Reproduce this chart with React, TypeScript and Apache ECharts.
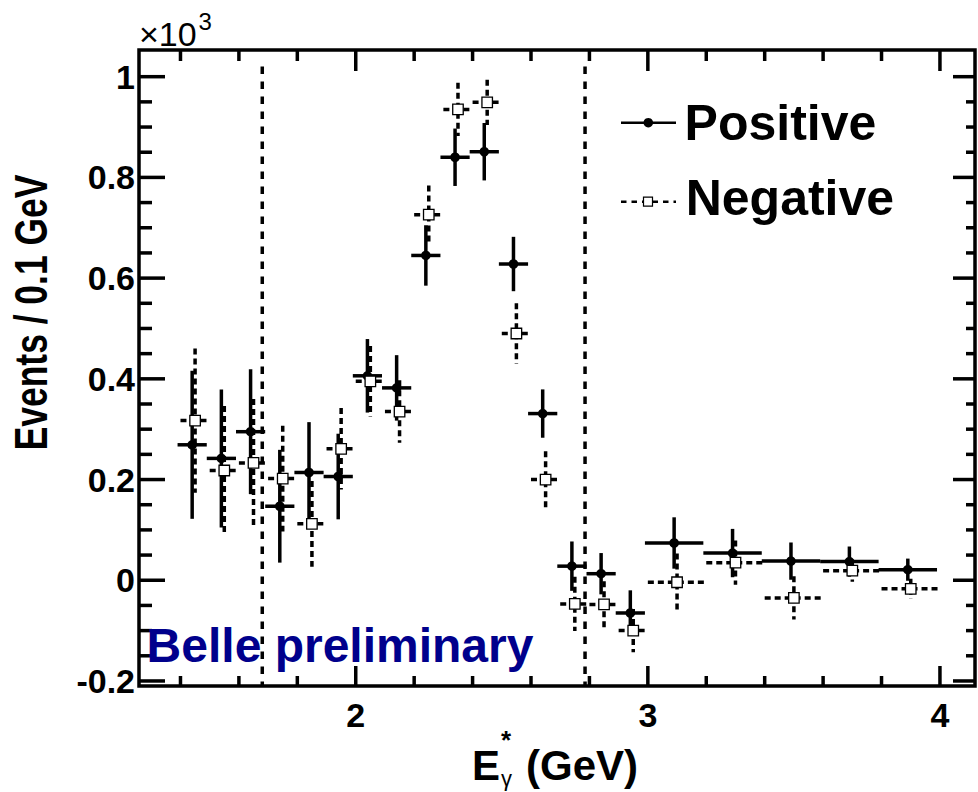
import React, { useEffect, useRef } from "react";
import * as echarts from "echarts";

// ---- data (values in units of 10^3 events / 0.1 GeV) ----
const BIN_CENTERS = [
  1.45, 1.55, 1.65, 1.75, 1.85, 1.95, 2.05, 2.15, 2.25, 2.35, 2.45, 2.55, 2.65, 2.75, 2.85, 2.95,
  3.1, 3.3, 3.5, 3.7, 3.9,
];
const BIN_HALF_WIDTHS = [
  0.05, 0.05, 0.05, 0.05, 0.05, 0.05, 0.05, 0.05, 0.05, 0.05, 0.05, 0.05, 0.05, 0.05, 0.05, 0.05,
  0.1, 0.1, 0.1, 0.1, 0.1,
];
const POSITIVE_VALUES = [
  0.269, 0.242, 0.295, 0.147, 0.214, 0.206, 0.406, 0.382, 0.645, 0.84, 0.851, 0.628, 0.331, 0.028,
  0.013, -0.065, 0.074, 0.054, 0.038, 0.037, 0.021,
];
const POSITIVE_ERRORS = [
  0.147, 0.137, 0.124, 0.112, 0.1, 0.085, 0.073, 0.065, 0.06, 0.057, 0.057, 0.054, 0.048, 0.049,
  0.041, 0.045, 0.051, 0.048, 0.037, 0.03, 0.022,
];
const NEGATIVE_VALUES = [
  0.317, 0.218, 0.233, 0.202, 0.112, 0.261, 0.395, 0.335, 0.726, 0.935, 0.949, 0.49, 0.2, -0.047,
  -0.048, -0.1, -0.004, 0.035, -0.035, 0.019, -0.017,
];
const NEGATIVE_ERRORS = [
  0.143, 0.128, 0.127, 0.105, 0.085, 0.081, 0.07, 0.062, 0.058, 0.053, 0.045, 0.06, 0.056, 0.054,
  0.046, 0.043, 0.057, 0.044, 0.043, 0.022, 0.02,
];
const SIGNAL_WINDOW_EDGES = [1.68, 2.785];

const X_MAJOR_TICKS = [2, 3, 4];
const X_MINOR_TICKS = [1.4, 1.6, 1.8, 2.2, 2.4, 2.6, 2.8, 3.2, 3.4, 3.6, 3.8];
const Y_MAJOR_TICKS = [-0.2, 0, 0.2, 0.4, 0.6, 0.8, 1.0];
const Y_MINOR_TICKS = [
  -0.15, -0.1, -0.05, 0.05, 0.1, 0.15, 0.25, 0.3, 0.35, 0.45, 0.5, 0.55, 0.65, 0.7, 0.75, 0.85,
  0.9, 0.95,
];

// ---- layout constants ----
const X_MIN = 1.258;
const X_MAX = 4.12;
const Y_MIN = -0.21;
const Y_MAX = 1.053;
const POSITIVE_SHIFT = -0.01;
const DIVIDER_TOP = 1.02;
const FONT = "'Liberation Sans', Arial, Helvetica, sans-serif";

export default function App() {
  const ref = useRef<HTMLDivElement>(null);

  useEffect(() => {
    if (!ref.current) return;
    const chart = echarts.init(ref.current, undefined, { renderer: "svg" });

    const posData = BIN_CENTERS.map((c, i) => [
      c + POSITIVE_SHIFT,
      POSITIVE_VALUES[i],
      POSITIVE_ERRORS[i],
      BIN_HALF_WIDTHS[i],
    ]);
    const negData = BIN_CENTERS.map((c, i) => [
      c,
      NEGATIVE_VALUES[i],
      NEGATIVE_ERRORS[i],
      BIN_HALF_WIDTHS[i],
    ]);

    // tick rows: [x, y, kind] kind: 0 x-major,1 x-minor,2 y-major,3 y-minor
    const tickData: number[][] = [];
    X_MAJOR_TICKS.forEach((v) => tickData.push([v, Y_MIN, 0]));
    X_MINOR_TICKS.forEach((v) => tickData.push([v, Y_MIN, 1]));
    Y_MAJOR_TICKS.forEach((v) => tickData.push([X_MIN, v, 2]));
    Y_MINOR_TICKS.forEach((v) => tickData.push([X_MIN, v, 3]));

    const tickStyle = { stroke: "#000", lineWidth: 3.5 };

    const option: any = {
      animation: false,
      backgroundColor: "#fff",
      grid: {
        left: 139,
        top: 50,
        width: 836,
        height: 636,
        show: true,
        borderColor: "#000",
        borderWidth: 3.5,
        backgroundColor: "transparent",
      },
      xAxis: {
        type: "value",
        min: X_MIN,
        max: X_MAX,
        axisLine: { show: false },
        axisTick: { show: false },
        splitLine: { show: false },
        axisLabel: {
          customValues: X_MAJOR_TICKS,
          formatter: (v: number) => String(Math.round(v * 10) / 10),
          fontSize: 34,
          fontWeight: "bold",
          fontFamily: FONT,
          color: "#000",
          margin: 12,
        },
      },
      yAxis: {
        type: "value",
        min: Y_MIN,
        max: Y_MAX,
        axisLine: { show: false },
        axisTick: { show: false },
        splitLine: { show: false },
        axisLabel: {
          customValues: Y_MAJOR_TICKS,
          formatter: (v: number) => String(Math.round(v * 10) / 10),
          fontSize: 34,
          fontWeight: "bold",
          fontFamily: FONT,
          color: "#000",
          margin: 4,
        },
      },
      series: [
        {
          name: "ticks",
          type: "custom",
          silent: true,
          clip: false,
          data: tickData,
          encode: { x: 0, y: 1 },
          renderItem: (_p: any, api: any) => {
            const x = api.value(0);
            const y = api.value(1);
            const kind = api.value(2);
            if (kind === 0 || kind === 1) {
              const b = api.coord([x, Y_MIN]);
              const t = api.coord([x, Y_MAX]);
              const lb = kind === 0 ? 20 : 10;
              const lt = kind === 0 ? 21 : 11;
              return {
                type: "group",
                children: [
                  { type: "line", shape: { x1: b[0], y1: b[1], x2: b[0], y2: b[1] - lb }, style: tickStyle },
                  { type: "line", shape: { x1: t[0], y1: t[1], x2: t[0], y2: t[1] + lt }, style: tickStyle },
                ],
              };
            }
            const l = api.coord([X_MIN, y]);
            const r = api.coord([X_MAX, y]);
            const ll = kind === 2 ? 26 : 13;
            const lr = kind === 2 ? 22 : 9;
            return {
              type: "group",
              children: [
                { type: "line", shape: { x1: l[0], y1: l[1], x2: l[0] + ll, y2: l[1] }, style: tickStyle },
                { type: "line", shape: { x1: r[0], y1: r[1], x2: r[0] - lr, y2: r[1] }, style: tickStyle },
              ],
            };
          },
          z: 3,
        },
        {
          name: "window",
          type: "custom",
          silent: true,
          data: SIGNAL_WINDOW_EDGES.map((v) => [v, Y_MIN]),
          encode: { x: 0, y: 1 },
          renderItem: (_p: any, api: any) => {
            const x = api.value(0);
            const t = api.coord([x, DIVIDER_TOP]);
            const b = api.coord([x, Y_MIN]);
            return {
              type: "line",
              shape: { x1: t[0], y1: t[1], x2: b[0], y2: b[1] },
              style: { stroke: "#000", lineWidth: 3.5, lineDash: [7.5, 7.5] },
            };
          },
          z: 2,
        },
        {
          name: "Positive",
          type: "custom",
          data: posData,
          encode: { x: 0, y: 1 },
          renderItem: (_p: any, api: any) => {
            const x = api.value(0);
            const y = api.value(1);
            const e = api.value(2);
            const hw = api.value(3);
            const pl = api.coord([x - hw, y]);
            const pr = api.coord([x + hw, y]);
            const pt = api.coord([x, y + e]);
            const pb = api.coord([x, y - e]);
            const c = api.coord([x, y]);
            const st = { stroke: "#000", lineWidth: 3.5 };
            return {
              type: "group",
              children: [
                { type: "line", shape: { x1: pl[0], y1: pl[1], x2: pr[0], y2: pr[1] }, style: st },
                { type: "line", shape: { x1: pt[0], y1: pt[1], x2: pb[0], y2: pb[1] }, style: st },
                { type: "circle", shape: { cx: c[0], cy: c[1], r: 4.8 }, style: { fill: "#000" } },
              ],
            };
          },
          z: 4,
        },
        {
          name: "Negative",
          type: "custom",
          data: negData,
          encode: { x: 0, y: 1 },
          renderItem: (_p: any, api: any) => {
            const x = api.value(0);
            const y = api.value(1);
            const e = api.value(2);
            const hw = api.value(3);
            const pl = api.coord([x - hw, y]);
            const pr = api.coord([x + hw, y]);
            const pt = api.coord([x, y + e]);
            const pb = api.coord([x, y - e]);
            const c = api.coord([x, y]);
            const st = { stroke: "#000", lineWidth: 3.5, lineDash: [6, 4] };
            const s = 10.5;
            return {
              type: "group",
              children: [
                { type: "line", shape: { x1: pl[0], y1: pl[1], x2: pr[0], y2: pr[1] }, style: st },
                { type: "line", shape: { x1: pt[0], y1: pt[1], x2: pb[0], y2: pb[1] }, style: st },
                {
                  type: "rect",
                  shape: { x: c[0] - s / 2, y: c[1] - s / 2, width: s, height: s },
                  style: { fill: "#fff", stroke: "#000", lineWidth: 1.3 },
                },
              ],
            };
          },
          z: 5,
        },
      ],
      graphic: [
        // x10^3
        {
          type: "text",
          x: 139,
          y: 34,
          style: { text: "×10", font: `normal 34px ${FONT}`, fill: "#000", verticalAlign: "middle", align: "left" },
        },
        {
          type: "text",
          x: 198.5,
          y: 21,
          style: { text: "3", font: `normal 24px ${FONT}`, fill: "#000", verticalAlign: "middle", align: "left" },
        },
        // y title
        {
          type: "text",
          x: 31.5,
          y: 312.5,
          rotation: Math.PI / 2,
          scaleX: 0.77,
          style: {
            text: "Events / 0.1 GeV",
            font: `bold 46px ${FONT}`,
            fill: "#000",
            align: "center",
            verticalAlign: "middle",
          },
        },
        // x title
        {
          type: "text",
          x: 472,
          y: 765,
          style: { text: "E", font: `bold 42px ${FONT}`, fill: "#000", align: "left", verticalAlign: "middle" },
        },
        {
          type: "text",
          x: 501,
          y: 778,
          style: { text: "γ", font: `normal 22px ${FONT}`, fill: "#000", align: "left", verticalAlign: "middle" },
        },
        {
          type: "text",
          x: 501,
          y: 740,
          style: { text: "*", font: `bold 26px ${FONT}`, fill: "#000", align: "left", verticalAlign: "middle" },
        },
        {
          type: "text",
          x: 526,
          y: 765,
          style: { text: "(GeV)", font: `bold 42px ${FONT}`, fill: "#000", align: "left", verticalAlign: "middle" },
        },
        // Belle preliminary
        {
          type: "text",
          x: 146.6,
          y: 645,
          z: 10,
          style: {
            text: "Belle preliminary",
            font: `bold 48px ${FONT}`,
            fill: "#00008c",
            align: "left",
            verticalAlign: "middle",
          },
        },
        // legend
        {
          type: "line",
          shape: { x1: 621, y1: 122.7, x2: 676, y2: 122.7 },
          style: { stroke: "#000", lineWidth: 2.5 },
        },
        { type: "circle", shape: { cx: 648.3, cy: 122.7, r: 4.8 }, style: { fill: "#000" } },
        {
          type: "text",
          x: 684.6,
          y: 122.5,
          style: { text: "Positive", font: `bold 50px ${FONT}`, fill: "#000", align: "left", verticalAlign: "middle" },
        },
        {
          type: "line",
          shape: { x1: 621, y1: 201.7, x2: 676, y2: 201.7 },
          style: { stroke: "#000", lineWidth: 2.5, lineDash: [5.5, 5] },
        },
        {
          type: "rect",
          shape: { x: 643.5, y: 197.2, width: 9, height: 9 },
          style: { fill: "#fff", stroke: "#000", lineWidth: 1.2 },
        },
        {
          type: "text",
          x: 685.7,
          y: 198.3,
          style: { text: "Negative", font: `bold 50px ${FONT}`, fill: "#000", align: "left", verticalAlign: "middle" },
        },
      ],
    };

    chart.setOption(option);
    return () => chart.dispose();
  }, []);

  return (
    <div
      ref={ref}
      style={{ position: "absolute", left: 0, top: 0, width: 978, height: 792, background: "#fff" }}
    />
  );
}
